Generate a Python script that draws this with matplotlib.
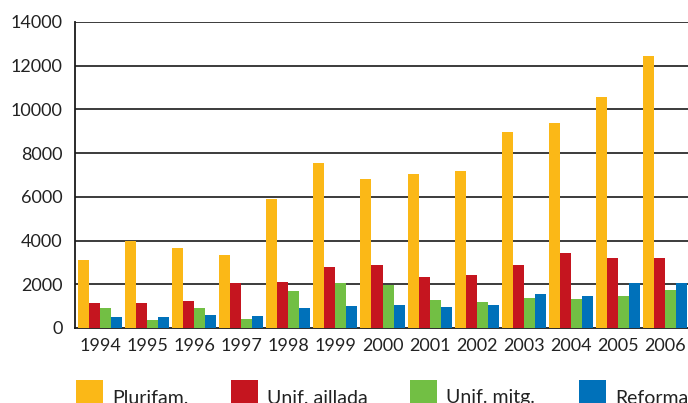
import numpy as np
import matplotlib
matplotlib.use("Agg")
import matplotlib.pyplot as plt
from matplotlib.patches import Rectangle

years = ["1994", "1995", "1996", "1997", "1998", "1999", "2000",
         "2001", "2002", "2003", "2004", "2005", "2006"]
plurifam = [3100, 4000, 3650, 3350, 5900, 7550, 6820, 7050, 7180, 8970, 9380, 10570, 12450]
unif_aillada = [1150, 1150, 1230, 2050, 2100, 2800, 2880, 2330, 2420, 2880, 3430, 3200, 3200]
unif_mitg = [900, 350, 900, 400, 1700, 2050, 1960, 1280, 1190, 1370, 1330, 1460, 1740]
reforma = [500, 500, 600, 550, 900, 1000, 1050, 950, 1050, 1550, 1460, 2060, 2060]
series = [plurifam, unif_aillada, unif_mitg, reforma]
labels = ["Plurifam.", "Unif. aillada", "Unif. mitg.", "Reforma"]
colors = ["#FBB817", "#C5151F", "#72BF44", "#0071BA"]
yticks = [0, 2000, 4000, 6000, 8000, 10000, 12000, 14000]

plt.rcParams["font.family"] = ["Lato", "DejaVu Sans"]

W, H = 688, 403
fig = plt.figure(figsize=(W / 100, H / 100), dpi=100)
ax = fig.add_axes([75 / W, (H - 328) / H, (W - 75) / W, 306 / H])

x = np.arange(len(years))
w = 11 / 47
for k, (vals, c) in enumerate(zip(series, colors)):
    ax.bar(x + k * w, vals, width=w, align="edge", color=c, linewidth=0, zorder=3)

ax.set_ylim(0, 14000)
ax.set_xlim(-3 / 47, len(years) - 1 + 4 * w + 1 / 47)
ax.set_yticks(yticks)
ax.set_yticklabels([str(v) for v in yticks], fontsize=13, color="#222222")
ax.set_xticks(x + 2 * w)
ax.set_xticklabels(years, fontsize=13, color="#222222")
ax.tick_params(length=0)
ax.tick_params(axis="y", pad=9)
ax.tick_params(axis="x", pad=7)
for v in yticks[1:]:
    ax.axhline(v, color="#1a1a1a", lw=1.2, zorder=1)
for s in ["top", "right"]:
    ax.spines[s].set_visible(False)
for s in ["left", "bottom"]:
    ax.spines[s].set_color("#1a1a1a")
    ax.spines[s].set_linewidth(1.3)

# legend along the (cropped) bottom edge
leg_x = [76, 231, 410, 579]
for lx, lab, c in zip(leg_x, labels, colors):
    fig.add_artist(Rectangle((lx / W, -0.02), 27 / W, (H - 380) / H + 0.02,
                             transform=fig.transFigure, color=c, lw=0))
    fig.text((lx + 36) / W, (H - 398) / H, lab, fontsize=14, color="#222222",
             va="center", ha="left")

fig.savefig("out.png", dpi=100)
